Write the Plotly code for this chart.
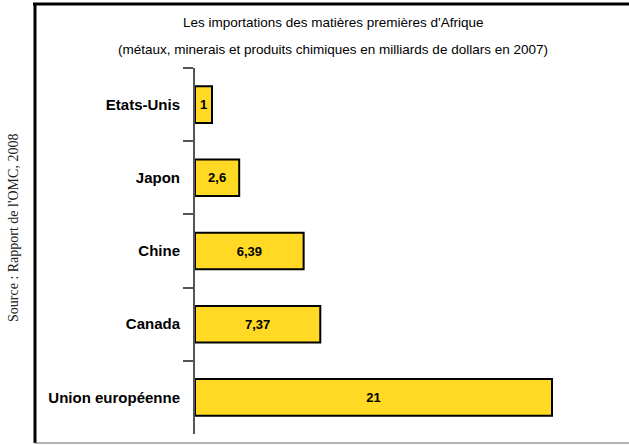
import plotly.graph_objects as go

# Data
countries = ["Etats-Unis", "Japon", "Chine", "Canada", "Union européenne"]
imports = [1, 2.6, 6.39, 7.37, 21]
labels = ["1", "2,6", "6,39", "7,37", "21"]

W, H = 629, 445
ML, MR, MT, MB = 195, 9, 68, 11


def px_x(p):
    # pixel -> paper x
    return (p - ML) / (W - ML - MR)


def px_y(p):
    # pixel -> paper y
    return 1 - (p - MT) / (H - MT - MB)


fig = go.Figure(go.Bar(
    x=imports, y=countries, orientation="h",
    text=labels, textposition="inside", insidetextanchor="middle",
    textangle=0, constraintext="none",
    textfont=dict(family="Liberation Sans, Arial", size=13, color="black", weight="bold"),
    marker=dict(color="#FFD924", line=dict(color="black", width=2)),
    width=0.5, hoverinfo="skip",
))

fig.update_yaxes(
    type="category", autorange="reversed",
    showline=True, linecolor="#555", linewidth=2,
    ticks="outside", tickson="boundaries", ticklen=10, tickwidth=2, tickcolor="#555",
    ticklabelstandoff=10,
    tickfont=dict(family="Liberation Sans, Arial", size=15, color="black", weight="bold"),
    showgrid=False,
)
fig.update_xaxes(range=[0, 25], visible=False, showgrid=False)

shapes = [
    # frame
    dict(type="line", xref="paper", yref="paper", x0=px_x(33), x1=px_x(629), y0=px_y(4), y1=px_y(4),
         line=dict(color="black", width=3)),
    dict(type="line", xref="paper", yref="paper", x0=px_x(35), x1=px_x(35), y0=px_y(4), y1=px_y(443),
         line=dict(color="black", width=3)),
    dict(type="line", xref="paper", yref="paper", x0=px_x(35), x1=px_x(629), y0=px_y(443), y1=px_y(443),
         line=dict(color="#666", width=1)),
]

annotations = [
    dict(text="Les importations des matières premières d'Afrique", xref="paper", yref="paper",
         x=px_x(333), y=px_y(22), xanchor="center", yanchor="middle", showarrow=False,
         font=dict(family="Liberation Sans, Arial", size=13.5, color="black")),
    dict(text="(métaux, minerais et produits chimiques en milliards de dollars en 2007)", xref="paper", yref="paper",
         x=px_x(333), y=px_y(50), xanchor="center", yanchor="middle", showarrow=False,
         font=dict(family="Liberation Sans, Arial", size=13.5, color="black")),
    dict(text="Source : Rapport de l'OMC, 2008", xref="paper", yref="paper",
         x=px_x(13), y=px_y(228), xanchor="center", yanchor="middle", showarrow=False, textangle=-90,
         font=dict(family="Liberation Serif, Times New Roman", size=14, color="#222")),
]

fig.update_layout(
    width=W, height=H,
    margin=dict(l=ML, r=MR, t=MT, b=MB),
    plot_bgcolor="white", paper_bgcolor="white",
    shapes=shapes, annotations=annotations,
    showlegend=False,
)

# drop the default 8px body margin so the figure sits at the window's corner
fig.write_html("out.html", config={"displayModeBar": False},
               post_script="document.body.style.margin='0';")
